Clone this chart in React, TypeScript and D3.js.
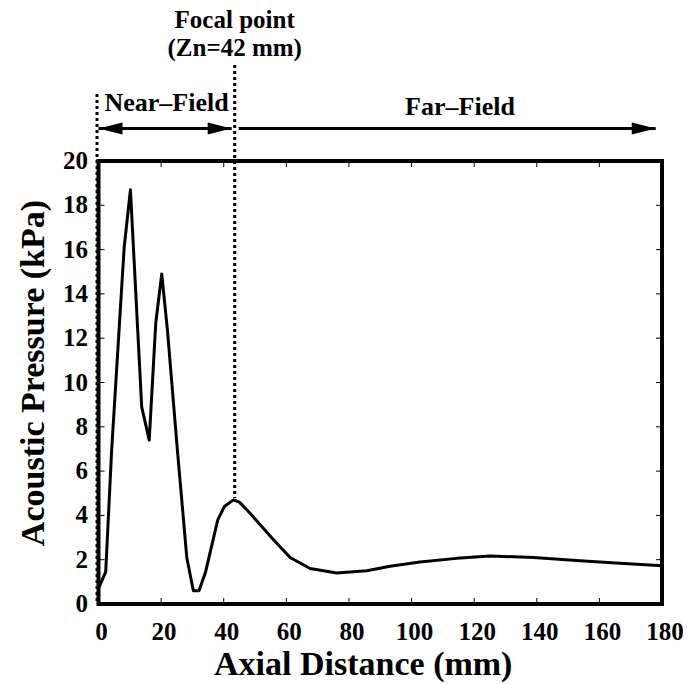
import React from "react";
import * as d3 from "d3";

// axial pressure profile
const distanceMm = [0, 2.3, 4.2, 8.2, 10.2, 13.8, 16.2, 18.3, 20.2, 22.0, 25.2, 28.2, 30.3, 32.1, 34.2, 38.1, 40.2, 43.1, 45, 48.4, 55.9, 61.2, 67.6, 76.1, 85.7, 93.1, 102.7, 114.4, 125.1, 139, 153.8, 166.6, 180];
const pressureKPa = [0.7, 1.45, 6.95, 16.1, 18.7, 8.9, 7.4, 12.7, 14.9, 12.4, 6.95, 2.1, 0.6, 0.6, 1.45, 3.8, 4.4, 4.7, 4.6, 4.1, 2.9, 2.1, 1.6, 1.4, 1.5, 1.7, 1.9, 2.06, 2.17, 2.1, 1.95, 1.84, 1.73];

const xTicks = [0, 20, 40, 60, 80, 100, 120, 140, 160, 180];
const yTicks = [0, 2, 4, 6, 8, 10, 12, 14, 16, 18, 20];

const focalMm = 43.5; // where the dotted focal line sits in the figure
const focalPeak = 4.7;
const farEndMm = 178;

const W = 692;
const H = 684;
const left = 98.5;
const right = 662;
const top = 161;
const bottom = 604;
const font = "Liberation Serif";

const Arrow = ({ x, y, dir }: { x: number; y: number; dir: number }) => {
  // filled triangle, tip at (x, y), pointing in direction dir (+1 right, -1 left)
  const len = 24;
  const half = 6;
  return <path d={`M${x},${y} L${x - dir * len},${y - half} L${x - dir * len},${y + half} Z`} fill="#000" />;
};

const Label = ({ x, y, size, anchor = "middle", children }: any) => (
  <text x={x} y={y} textAnchor={anchor} fontSize={size} fontWeight="bold" style={{ fontFamily: font }}>
    {children}
  </text>
);

export default function App() {
  const x = d3.scaleLinear().domain([0, 180]).range([left, right]);
  const y = d3.scaleLinear().domain([0, 20]).range([bottom, top]);

  const line = d3
    .line<number>()
    .x((_, i) => x(distanceMm[i]))
    .y((d) => y(d));

  const arrowY = 128.5;
  const fx = x(focalMm);

  return (
    <svg width={W} height={H} style={{ position: "absolute", left: 0, top: 0, background: "#fff" }}>
      {/* ticks, inward on all four sides */}
      {xTicks.map((t) => (
        <g key={"xt" + t}>
          <line x1={x(t)} x2={x(t)} y1={bottom} y2={bottom - 6} stroke="#000" strokeWidth={1} />
          <line x1={x(t)} x2={x(t)} y1={top} y2={top + 6} stroke="#000" strokeWidth={1} />
          <Label x={x(t) + 3} y={640} size={25}>
            {t}
          </Label>
        </g>
      ))}
      {yTicks.map((t) => (
        <g key={"yt" + t}>
          <line x1={left} x2={left + 6} y1={y(t)} y2={y(t)} stroke="#000" strokeWidth={1} />
          <line x1={right} x2={right - 6} y1={y(t)} y2={y(t)} stroke="#000" strokeWidth={1} />
          <Label x={88} y={y(t) + 8} size={25} anchor="end">
            {t}
          </Label>
        </g>
      ))}

      {/* frame */}
      <rect x={left} y={top} width={right - left} height={bottom - top} fill="none" stroke="#000" strokeWidth={4} />

      {/* dotted marker lines */}
      <line x1={left - 1.5} x2={left - 1.5} y1={94} y2={bottom} stroke="#000" strokeWidth={3} strokeDasharray="3,3" />
      <line x1={fx} x2={fx} y1={65} y2={y(focalPeak) - 2} stroke="#000" strokeWidth={3} strokeDasharray="3,3" />

      {/* curve */}
      <path d={line(pressureKPa) ?? ""} fill="none" stroke="#000" strokeWidth={3} strokeLinejoin="round" />

      {/* near-field arrow */}
      <line x1={left} x2={fx - 3} y1={arrowY} y2={arrowY} stroke="#000" strokeWidth={3} />
      <Arrow x={left} y={arrowY} dir={-1} />
      <Arrow x={fx - 3} y={arrowY} dir={1} />
      <Label x={(left + fx) / 2} y={111} size={26}>
        Near–Field
      </Label>

      {/* far-field arrow */}
      <line x1={fx + 4} x2={x(farEndMm)} y1={arrowY} y2={arrowY} stroke="#000" strokeWidth={3} />
      <Arrow x={x(farEndMm)} y={arrowY} dir={1} />
      <Label x={460} y={115} size={26}>
        Far–Field
      </Label>

      {/* focal point label */}
      <Label x={fx} y={28} size={25}>
        Focal point
      </Label>
      <Label x={fx} y={56} size={25}>
        (Zn=42 mm)
      </Label>

      {/* axis titles */}
      <Label x={(left + right) / 2 - 17} y={675} size={34}>
        Axial Distance (mm)
      </Label>
      <g transform={`translate(44, 373) rotate(-90)`}>
        <Label x={0} y={0} size={34}>
          Acoustic Pressure (kPa)
        </Label>
      </g>
    </svg>
  );
}
